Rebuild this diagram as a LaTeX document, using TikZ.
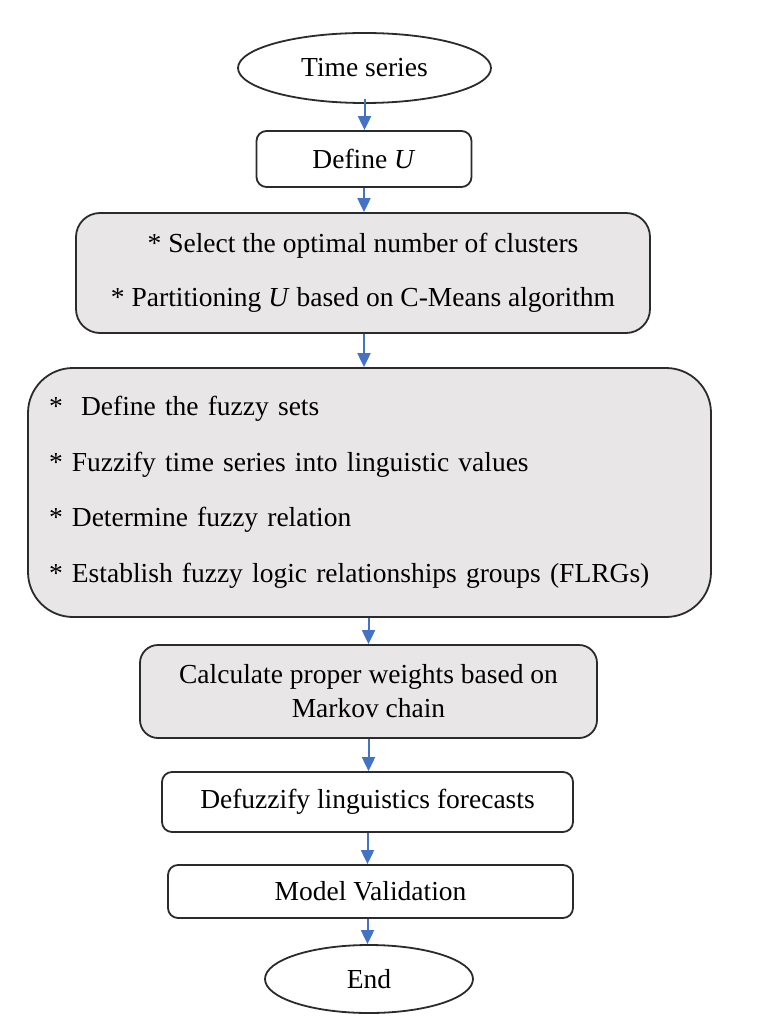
\documentclass[tikz,border=0pt]{standalone}
\usepackage{fontspec}
\setmainfont{Liberation Serif}
\usetikzlibrary{shapes.geometric,arrows.meta}
\definecolor{boxgray}{HTML}{E8E6E6}
\definecolor{arrowblue}{HTML}{4472C4}
\definecolor{edge}{HTML}{2B2B2B}
\begin{document}
\begin{tikzpicture}[x=1pt,y=-1pt,
  every node/.style={font=\fontsize{27.5}{33}\selectfont, inner sep=0pt},
  term/.style={ellipse, draw=edge, line width=1.8pt, fill=white},
  plainbox/.style={rectangle, draw=edge, line width=1.8pt, rounded corners=10pt, fill=white, align=center},
  graybox/.style={rectangle, draw=edge, line width=1.8pt, fill=boxgray, align=center},
  flow/.style={draw=arrowblue, line width=2pt, -{Triangle[length=14pt,width=13pt]}}
]
\useasboundingbox (0,0) rectangle (774,1024);
\node[term, minimum width=253pt, minimum height=70pt] (ts) at (364.5,68) {Time series};
\node[plainbox, minimum width=215pt, minimum height=56pt] (du) at (364,159) {Define \textit{U}};
\node[graybox, rounded corners=24pt, minimum width=574pt, minimum height=120pt,
      font=\fontsize{27.5}{54}\selectfont] (sel) at (363,273)
  {{*} Select the optimal number of clusters\\{*} Partitioning \textit{U} based on C-Means algorithm};
\node[graybox, rounded corners=45pt, minimum width=683pt, minimum height=249pt,
      text width=641pt, align=left, font=\fontsize{27.5}{55.5}\selectfont] (fz) at (369.5,492.5)
  {{*}\ \ Define the fuzzy sets\\{*} Fuzzify time series into linguistic values\\{*} Determine fuzzy relation\\{*} Establish fuzzy logic relationships groups (FLRGs)};
\node[graybox, rounded corners=18pt, minimum width=457pt, minimum height=93pt,
      font=\fontsize{27.5}{34}\selectfont] (mk) at (368.5,691.5)
  {Calculate proper weights based on\\Markov chain};
\node[plainbox, minimum width=411pt, minimum height=60pt] (df) at (367.5,802) {Defuzzify linguistics forecasts};
\node[plainbox, minimum width=405pt, minimum height=53pt] (mv) at (370.5,891.5) {Model Validation};
\node[term, minimum width=208pt, minimum height=68pt] (en) at (369,979) {End};
\draw[flow] ([yshift=5pt]ts.south) -- (ts.south |- du.north);
\draw[flow] (du.south) -- (du.south |- sel.north);
\draw[flow] (du.south |- sel.south) -- (du.south |- fz.north);
\draw[flow] (mk.north |- fz.south) -- (mk.north);
\draw[flow] (mk.south) -- (mk.south |- df.north);
\draw[flow] (df.south) -- (df.south |- mv.north);
\draw[flow] (df.south |- mv.south) -- (df.south |- en.north);
\end{tikzpicture}
\end{document}
